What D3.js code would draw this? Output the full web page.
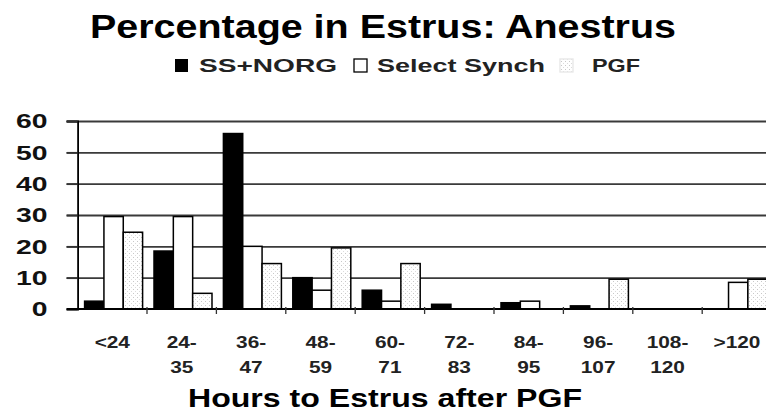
<!DOCTYPE html>
<html>
<head>
<meta charset="utf-8">
<script src="https://cdn.jsdelivr.net/npm/d3@7"></script>
<style>
  body { margin: 0; background: #fff; }
  svg { display: block; font-family: "Liberation Sans", Arial, sans-serif; font-weight: bold; }
</style>
</head>
<body>
<svg class="estrus" width="766" height="415"></svg>
<script>
// hour bins, split over two lines like the original axis
const categories = ["<24", "24-35", "36-47", "48-59", "60-71", "72-83", "84-95", "96-107", "108-120", ">120"];
const tickTop = ["<24", "24-", "36-", "48-", "60-", "72-", "84-", "96-", "108-", ">120"];
const tickBottom = ["", "35", "47", "59", "71", "83", "95", "107", "120", ""];

const seriesNames = ["SS+NORG", "Select Synch", "PGF"];
const ssNorg = [2.5, 18.5, 56, 10, 6, 1.5, 2, 1, 0, 0];
const selectSynch = [29.5, 29.5, 20, 6, 2.5, 0, 2.5, 0, 0, 8.5];
const pgf = [24.5, 5, 14.5, 19.5, 14.5, 0, 0, 9.5, 0, 9.5];

const yTicks = [0, 10, 20, 30, 40, 50, 60];

function drawChart(){
  const svg = d3.select('svg.estrus');

  // stipple used for the PGF bars
  const defs = svg.append('defs');
  const pat = defs.append('pattern')
      .attr('id', 'stipple')
      .attr('width', 4).attr('height', 4)
      .attr('patternUnits', 'userSpaceOnUse');
  pat.append('rect').attr('width', 4).attr('height', 4).attr('fill', '#fff');
  pat.append('rect').attr('x', 1).attr('y', 1).attr('width', 1).attr('height', 1).attr('fill', '#c8c8c8');
  pat.append('rect').attr('x', 3).attr('y', 3).attr('width', 1).attr('height', 1).attr('fill', '#dcdcdc');

  const fills = ['#000', '#fff', 'url(#stipple)'];

  const left = 77.6, right = 771.6, top = 121, bottom = 309;

  const x0 = d3.scaleBand().domain(categories).range([left, right]);
  const x1 = d3.scaleBand().domain(seriesNames).range([7, x0.bandwidth() - 4.4]);
  const y = d3.scaleLinear().domain([0, 60]).range([bottom, top]);

  // stretch text horizontally by k
  function stretch(sel, k){
    sel.each(function(){
      const w = this.getComputedTextLength();
      d3.select(this).attr('textLength', w * k).attr('lengthAdjust', 'spacingAndGlyphs');
    });
  }

  // title
  svg.append('text')
    .text('Percentage in Estrus: Anestrus')
    .attr('x', 383).attr('y', 38)
    .attr('text-anchor', 'middle')
    .style('font-size', '34px')
    .attr('textLength', 586).attr('lengthAdjust', 'spacingAndGlyphs');

  // legend
  const legend = svg.append('g').attr('class', 'legend');
  const legItems = [
    {sx: 175, tx: 199, w: 138},
    {sx: 354, tx: 377, w: 168},
    {sx: 560, tx: 592, w: 48}
  ];
  legItems.forEach(function(d, i){
    legend.append('rect')
      .attr('x', d.sx).attr('y', 59).attr('width', 13).attr('height', 13)
      .attr('fill', fills[i])
      .attr('stroke', i == 2 ? '#e6e6e6' : '#000')
      .attr('stroke-width', i == 0 ? 0 : 1.3);
    legend.append('text')
      .text(seriesNames[i])
      .attr('x', d.tx).attr('y', 72)
      .style('font-size', '19px')
      .style('fill', '#222')
      .attr('textLength', d.w).attr('lengthAdjust', 'spacingAndGlyphs');
  });

  // grid
  svg.append('g')
    .attr('class', 'grid')
    .attr('transform', `translate(${left},0)`)
    .call(d3.axisLeft(y).tickValues(yTicks.slice(1)).tickSize(-(right - left) - 12).tickFormat(''))
    .call(g => g.select('.domain').remove())
    .call(g => g.selectAll('line').attr('stroke', '#3a3a3a').attr('stroke-width', 1.8).attr('transform', 'translate(-11,0)'));

  // bars
  const series = [ssNorg, selectSynch, pgf];
  series.forEach(function(vals, s){
    svg.append('g')
      .selectAll('rect')
      .data(vals)
      .enter()
      .append('rect')
        .attr('x', (d, i) => x0(categories[i]) + x1(seriesNames[s]))
        .attr('y', d => y(d))
        .attr('width', x1.bandwidth())
        .attr('height', d => y(0) - y(d))
        .attr('fill', fills[s])
        .attr('stroke', '#000')
        .attr('stroke-width', 1.5);
  });

  // y axis
  const yAxis = svg.append('g')
    .attr('transform', `translate(${left},0)`)
    .call(d3.axisLeft(y).tickValues(yTicks).tickSize(11).tickPadding(19));
  yAxis.select('.domain').attr('stroke', '#000').attr('stroke-width', 1.8);
  yAxis.selectAll('line').attr('stroke', '#333').attr('stroke-width', 1.8);
  yAxis.selectAll('text')
    .style('font-size', '21px')
    .style('font-family', '"Liberation Sans", Arial, sans-serif')
    .style('font-weight', 'bold')
    .attr('fill', '#111')
    .call(stretch, 1.35);

  // x axis line and ticks at the bin edges
  const xAxis = svg.append('g').attr('class', 'axis x');
  xAxis.append('line')
    .attr('x1', left - 11).attr('x2', right)
    .attr('y1', y(0)).attr('y2', y(0))
    .attr('stroke', '#000').attr('stroke-width', 1.8);
  xAxis.selectAll('line.tick')
    .data(categories.slice(1))
    .enter()
    .append('line')
      .attr('class', 'tick')
      .attr('x1', d => x0(d)).attr('x2', d => x0(d))
      .attr('y1', y(0) - 2).attr('y2', y(0) + 5)
      .attr('stroke', '#333').attr('stroke-width', 1.3);

  const labels = xAxis.selectAll('g.lab')
    .data(categories)
    .enter()
    .append('g')
      .attr('class', 'lab')
      .attr('transform', d => `translate(${x0(d) + x0.bandwidth() / 2},0)`);
  labels.append('text')
    .text((d, i) => tickTop[i])
    .attr('y', 348)
    .attr('text-anchor', 'middle')
    .style('font-size', '16px')
    .style('fill', '#222')
    .call(stretch, 1.3);
  labels.append('text')
    .text((d, i) => tickBottom[i])
    .attr('y', 373)
    .attr('text-anchor', 'middle')
    .style('font-size', '16px')
    .style('fill', '#222')
    .call(stretch, 1.3);

  svg.append('text')
    .text('Hours to Estrus after PGF')
    .attr('x', 385).attr('y', 407)
    .attr('text-anchor', 'middle')
    .style('font-size', '25px')
    .attr('textLength', 394).attr('lengthAdjust', 'spacingAndGlyphs');
}

drawChart();
</script>
</body>
</html>
